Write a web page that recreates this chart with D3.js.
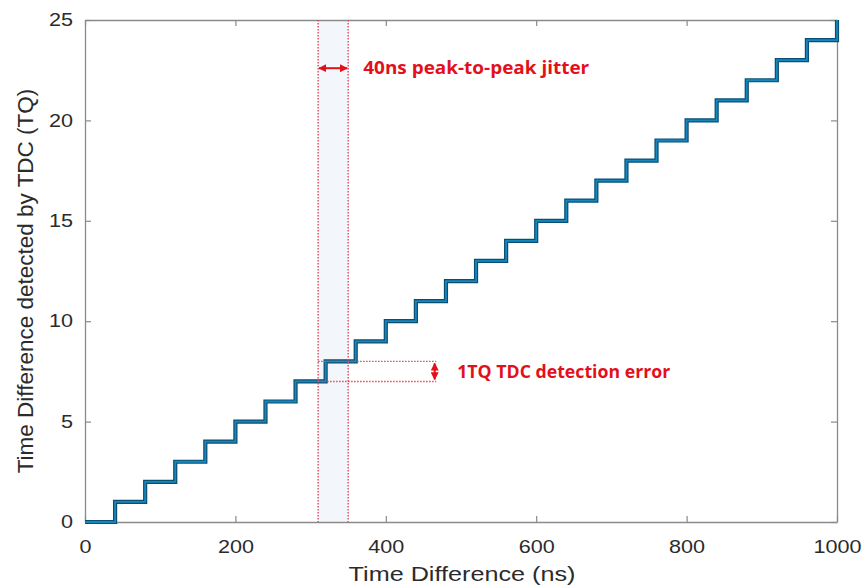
<!DOCTYPE html>
<html>
<head>
<meta charset="utf-8">
<script src="https://cdn.jsdelivr.net/npm/d3@7"></script>
<style>
  html, body { margin: 0; padding: 0; background: #fff; }
  svg { display: block; }
</style>
</head>
<body>
<div id="chart"></div>
<script>
// TDC output staircase: detected value (TQ) against time difference (ns)
const stepTimes  = [0, 40, 80, 120, 160, 200, 240, 280, 320, 360, 400, 440, 480,
                    520, 560, 600, 640, 680, 720, 760, 800, 840, 880, 920, 960, 1000];
const stepLevels = [0, 1, 2, 3, 4, 5, 6, 7, 8, 9, 10, 11, 12,
                    13, 14, 15, 16, 17, 18, 19, 20, 21, 22, 23, 24, 25];

const xTicks = [0, 200, 400, 600, 800, 1000];
const yTicks = [0, 5, 10, 15, 20, 25];

// jitter window and detection-error annotation
const jitterWindow = [310, 350];
const errorLevels  = [7, 8];
const errorBoxEnd  = 467;
const jitterLabel  = "40ns peak-to-peak jitter";
const errorLabel   = "1TQ TDC detection error";

const W = 867, H = 588;
const margin = { left: 85, top: 20, right: 30, bottom: 66 };
const iw = W - margin.left - margin.right;
const ih = H - margin.top - margin.bottom;
const stretch = 1.2;   // wide glyphs for the axis text

const svg = d3.select("#chart").append("svg")
  .attr("width", W).attr("height", H);

const defs = svg.append("defs");
defs.append("marker")
  .attr("id", "head")
  .attr("viewBox", "0 0 10 10")
  .attr("refX", 9).attr("refY", 5)
  .attr("markerWidth", 4).attr("markerHeight", 4)
  .attr("orient", "auto-start-reverse")
  .append("path").attr("d", "M0,0 L10,5 L0,10 Z").attr("fill", "#e3101c");

const g = svg.append("g").attr("transform", `translate(${margin.left},${margin.top})`);

const x = d3.scaleLinear().domain([0, 1000]).range([0, iw]);
const y = d3.scaleLinear().domain([0, 25]).range([ih, 0]);

const axisColor = "#8a8a8a";
const textColor = "#2b2b2b";
const font = "'Liberation Sans', Arial, Helvetica, sans-serif";

// faint band across the jitter window
g.append("rect")
  .attr("x", x(jitterWindow[0])).attr("y", 0)
  .attr("width", x(jitterWindow[1]) - x(jitterWindow[0]))
  .attr("height", ih)
  .attr("fill", "#eef4f9").attr("opacity", 0.7);

// axes: bottom/left with labels, top/right as box with inward ticks
function styleAxis(sel) {
  sel.select(".domain").attr("stroke", axisColor).attr("stroke-width", 1.3);
  sel.selectAll(".tick line").attr("stroke", axisColor).attr("stroke-width", 1.2);
  sel.selectAll(".tick text")
    .attr("fill", textColor)
    .attr("transform", `scale(${stretch},1)`)
    .style("font-family", font)
    .style("font-size", "18px");
}

const xAxis = g.append("g").attr("transform", `translate(0,${ih})`)
  .call(d3.axisBottom(x).tickValues(xTicks).tickFormat(d3.format("d"))
    .tickSize(-6).tickPadding(18).tickSizeOuter(0));
styleAxis(xAxis);

const yAxis = g.append("g")
  .call(d3.axisLeft(y).tickValues(yTicks).tickFormat(d3.format("d"))
    .tickSize(-6).tickPadding(10).tickSizeOuter(0));
styleAxis(yAxis);

const xTop = g.append("g")
  .call(d3.axisTop(x).tickValues(xTicks).tickSize(-6).tickFormat("").tickSizeOuter(0));
styleAxis(xTop);

const yRight = g.append("g").attr("transform", `translate(${iw},0)`)
  .call(d3.axisRight(y).tickValues(yTicks).tickSize(-6).tickFormat("").tickSizeOuter(0));
styleAxis(yRight);

// axis titles
svg.append("text")
  .attr("transform", `translate(462,581) scale(${stretch},1)`)
  .attr("text-anchor", "middle")
  .attr("fill", textColor)
  .style("font-family", font).style("font-size", "21px")
  .text("Time Difference (ns)");

svg.append("text")
  .attr("transform", `translate(33,281) rotate(-90)`)
  .attr("text-anchor", "middle")
  .attr("fill", textColor)
  .style("font-family", font).style("font-size", "22.5px")
  .text("Time Difference detected by TDC (TQ)");

// staircase
const pts = stepTimes.map((t, i) => [t, stepLevels[i]]);
const line = d3.line().x(d => x(d[0])).y(d => y(d[1])).curve(d3.curveStepAfter);

g.append("path")
  .attr("d", line(pts))
  .attr("fill", "none")
  .attr("stroke", "#0a4f72")
  .attr("stroke-width", 4.2)
  .attr("stroke-linejoin", "miter");
g.append("path")
  .attr("d", line(pts))
  .attr("fill", "none")
  .attr("stroke", "#1786bd")
  .attr("stroke-width", 1.8)
  .attr("stroke-linejoin", "miter");

// annotations
const red = "#e3101c";
const dotted = "#dd4a5e";

jitterWindow.forEach(t => {
  g.append("line")
    .attr("x1", x(t)).attr("x2", x(t))
    .attr("y1", 0).attr("y2", ih)
    .attr("stroke", dotted).attr("stroke-width", 1.4)
    .attr("stroke-dasharray", "1.5,1.5");
});

errorLevels.forEach(v => {
  g.append("line")
    .attr("x1", x(jitterWindow[0])).attr("x2", x(errorBoxEnd))
    .attr("y1", y(v)).attr("y2", y(v))
    .attr("stroke", dotted).attr("stroke-width", 1.4)
    .attr("stroke-dasharray", "1.5,1.5");
});

// horizontal jitter arrow
g.append("line")
  .attr("x1", x(jitterWindow[0]) + 1).attr("x2", x(jitterWindow[1]) - 1)
  .attr("y1", y(22.6)).attr("y2", y(22.6))
  .attr("stroke", red).attr("stroke-width", 2)
  .attr("marker-start", "url(#head)").attr("marker-end", "url(#head)");

g.append("text")
  .attr("x", x(370)).attr("y", y(22.6))
  .attr("dy", "0.35em")
  .attr("fill", red)
  .attr("textLength", 226).attr("lengthAdjust", "spacingAndGlyphs")
  .style("font-family", "'Open Sans', sans-serif")
  .style("font-weight", "bold").style("font-size", "17.5px")
  .text(jitterLabel);

// vertical error arrow
g.append("line")
  .attr("x1", x(errorBoxEnd - 2)).attr("x2", x(errorBoxEnd - 2))
  .attr("y1", y(errorLevels[1]) + 2).attr("y2", y(errorLevels[0]) - 2)
  .attr("stroke", red).attr("stroke-width", 2)
  .attr("marker-start", "url(#head)").attr("marker-end", "url(#head)");

g.append("text")
  .attr("x", x(495)).attr("y", y((errorLevels[0] + errorLevels[1]) / 2))
  .attr("dy", "0.35em")
  .attr("fill", red)
  .attr("textLength", 213).attr("lengthAdjust", "spacingAndGlyphs")
  .style("font-family", "'Open Sans', sans-serif")
  .style("font-weight", "bold").style("font-size", "17.5px")
  .text(errorLabel);
</script>
</body>
</html>
